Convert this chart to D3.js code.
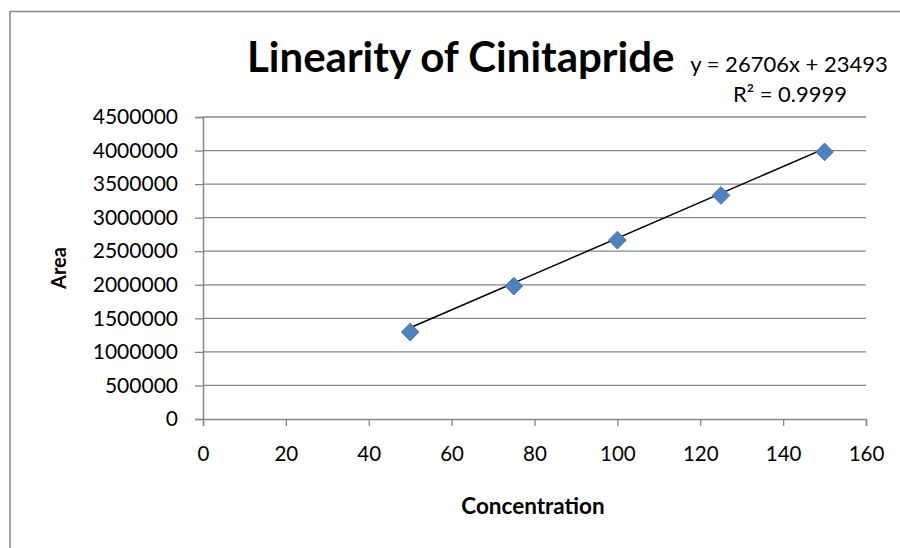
<!DOCTYPE html>
<html>
<head>
<meta charset="utf-8">
<script src="https://cdn.jsdelivr.net/npm/d3@7"></script>
<style>
  html, body { margin: 0; padding: 0; background: #fff; }
  svg { display: block; font-family: Lato, "Open Sans", sans-serif; }
</style>
</head>
<body>
<svg id="chart" width="900" height="548"></svg>
<script>
// Calibration data: concentration vs peak area
const concentration = [50, 75, 100, 125, 150];
const area = [1295000, 1980000, 2665000, 3331000, 3980000];

// Linear trendline reported on the chart
const slope = 26706;
const intercept = 23493;
const equationLabel = "y = 26706x + 23493";
const r2Label = "R² = 0.9999";

const xTicks = [0, 20, 40, 60, 80, 100, 120, 140, 160];
const yTicks = [0, 500000, 1000000, 1500000, 2000000, 2500000, 3000000, 3500000, 4000000, 4500000];

const titleText = "Linearity of Cinitapride";
const xTitle = "Concentration";
const yTitle = "Area";

const svg = d3.select("#chart");
const gridColor = "#878787";

// Outer chart frame
svg.append("rect")
  .attr("x", 10).attr("y", 11.5)
  .attr("width", 900).attr("height", 560)
  .attr("fill", "none")
  .attr("stroke", "#8c8c8c")
  .attr("stroke-width", 1.6);

const x = d3.scaleLinear().domain([0, 160]).range([203, 866]);
const y = d3.scaleLinear().domain([0, 4500000]).range([419, 117]);

// Horizontal gridlines
svg.append("g")
  .selectAll("line")
  .data(yTicks.slice(1))
  .join("line")
  .attr("x1", x(0)).attr("x2", x(160))
  .attr("y1", d => y(d)).attr("y2", d => y(d))
  .attr("stroke", gridColor)
  .attr("stroke-width", 1.3);

// Y axis
const yAxis = svg.append("g")
  .attr("transform", `translate(${x(0)},0)`)
  .call(d3.axisLeft(y).tickValues(yTicks).tickFormat(d3.format("d")).tickSize(8).tickPadding(17));
yAxis.select(".domain").attr("stroke", gridColor).attr("stroke-width", 1.5);
yAxis.selectAll(".tick line").attr("stroke", gridColor).attr("stroke-width", 1.3);
yAxis.selectAll(".tick text")
  .attr("fill", "#000")
  .style("font-size", "21px")
  .style("font-family", "Lato, sans-serif");

// X axis
const xAxis = svg.append("g")
  .attr("transform", `translate(0,${y(0)})`)
  .call(d3.axisBottom(x).tickValues(xTicks).tickFormat(d3.format("d")).tickSize(7).tickPadding(20));
xAxis.select(".domain").attr("stroke", gridColor).attr("stroke-width", 1.5);
xAxis.selectAll(".tick line").attr("stroke", gridColor).attr("stroke-width", 1.3);
xAxis.selectAll(".tick text")
  .attr("fill", "#000")
  .style("font-size", "20.5px")
  .style("font-family", "Lato, sans-serif");

// Trendline over the measured range
const xMin = d3.min(concentration), xMax = d3.max(concentration);
svg.append("line")
  .attr("x1", x(xMin)).attr("y1", y(slope * xMin + intercept))
  .attr("x2", x(xMax)).attr("y2", y(slope * xMax + intercept))
  .attr("stroke", "#000")
  .attr("stroke-width", 1.5);

// Diamond markers
const diamond = d3.symbol().type(d3.symbolDiamond2).size(200);
svg.append("g")
  .selectAll("path")
  .data(concentration.map((c, i) => [c, area[i]]))
  .join("path")
  .attr("d", diamond)
  .attr("transform", d => `translate(${x(d[0])},${y(d[1])})`)
  .attr("fill", "#4F81BD")
  .attr("stroke", "#4476B2")
  .attr("stroke-width", 1);

// Title
svg.append("text")
  .attr("x", 247).attr("y", 72)
  .style("font-size", "42px")
  .style("font-weight", "bold")
  .text(titleText);

// Trendline equation
const eq = svg.append("text")
  .attr("text-anchor", "middle")
  .style("font-size", "22px");
eq.append("tspan").attr("x", 789).attr("y", 72).text(equationLabel);
eq.append("tspan").attr("x", 790).attr("y", 101.5).text(r2Label);

// Axis titles
svg.append("text")
  .attr("x", 533).attr("y", 514)
  .attr("text-anchor", "middle")
  .style("font-size", "22.5px")
  .style("font-weight", "bold")
  .text(xTitle);

svg.append("text")
  .attr("transform", "translate(66,268) rotate(-90)")
  .attr("text-anchor", "middle")
  .style("font-size", "20px")
  .style("font-weight", "bold")
  .text(yTitle);
</script>
</body>
</html>
